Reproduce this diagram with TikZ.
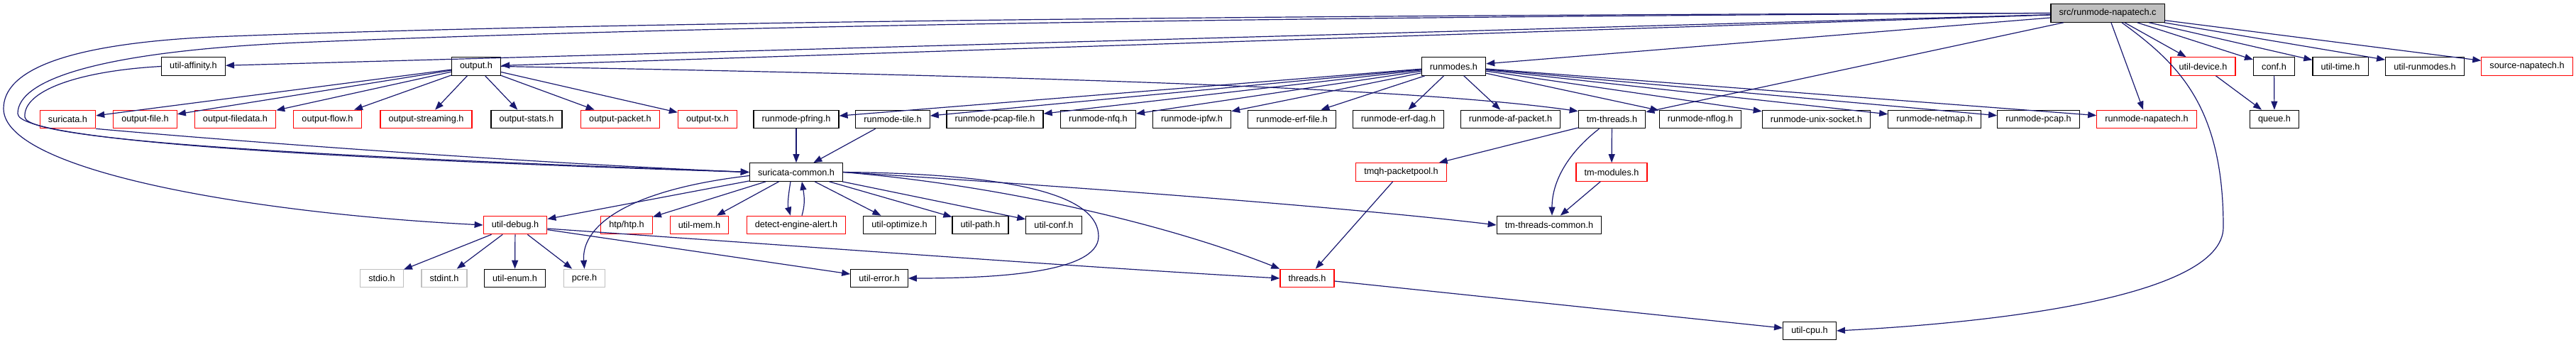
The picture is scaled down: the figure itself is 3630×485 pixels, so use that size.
\documentclass[tikz,border=0pt]{standalone}
\usepackage{fontspec}
\setmainfont{Liberation Sans}
\usepackage{tikz}
\usetikzlibrary{arrows.meta}
\definecolor{edgeblue}{HTML}{191970}
\definecolor{sysgray}{HTML}{BFBFBF}
\definecolor{trunc}{HTML}{FF0000}
\tikzset{
  hdr/.style={rectangle, line width=1.2pt, minimum height=25.5pt, inner xsep=11.6pt, inner ysep=0pt, font=\fontsize{12.7}{15}\selectfont, text=black},
}

\begin{document}
\begin{tikzpicture}[x=1pt, y=-1pt,
  docbox/.style={hdr, draw=black},
  redbox/.style={hdr, draw=trunc},
  sysbox/.style={hdr, draw=sysgray},
  rootbox/.style={hdr, draw=black, fill=sysgray},
  arr/.style={-{Triangle[length=12pt,width=9pt]}, line width=1.2pt, edgeblue}]
\useasboundingbox (0,0) rectangle (3630,485);
\node[rootbox] (root) at (2970,18.5) {src/runmode-napatech.c};
\node[docbox] (aff) at (272.5,93.5) {util-affinity.h};
\node[docbox] (outh) at (671,93.5) {output.h};
\node[docbox] (rmh) at (2048.5,93.5) {runmodes.h};
\node[redbox] (udev) at (3104.5,93.5) {util-device.h};
\node[docbox] (conf) at (3204.5,93.5) {conf.h};
\node[docbox] (utime) at (3298,93.5) {util-time.h};
\node[docbox] (urm) at (3417,93.5) {util-runmodes.h};
\node[redbox] (srcnapa) at (3561,93.5) {source-napatech.h};
\node[redbox] (suri) at (95.5,168) {suricata.h};
\node[redbox] (ofile) at (204.5,168) {output-file.h};
\node[redbox] (ofdata) at (331.5,168) {output-filedata.h};
\node[redbox] (oflow) at (461.5,168) {output-flow.h};
\node[redbox] (ostream) at (600.5,168) {output-streaming.h};
\node[docbox] (ostats) at (742,168) {output-stats.h};
\node[redbox] (opkt) at (874,168) {output-packet.h};
\node[redbox] (otx) at (997,168) {output-tx.h};
\node[docbox] (pfring) at (1122,168) {runmode-pfring.h};
\node[docbox] (tile) at (1258,168) {runmode-tile.h};
\node[docbox] (pcapfile) at (1402,168) {runmode-pcap-file.h};
\node[docbox] (nfq) at (1547.5,168) {runmode-nfq.h};
\node[docbox] (ipfw) at (1679.5,168) {runmode-ipfw.h};
\node[docbox] (erffile) at (1820.5,168) {runmode-erf-file.h};
\node[docbox] (erfdag) at (1970.5,168) {runmode-erf-dag.h};
\node[docbox] (afpkt) at (2128.5,168) {runmode-af-packet.h};
\node[docbox] (tmt) at (2271.5,168) {tm-threads.h};
\node[docbox] (nflog) at (2396,168) {runmode-nflog.h};
\node[docbox] (unixsock) at (2559.5,168) {runmode-unix-socket.h};
\node[docbox] (netmap) at (2726,168) {runmode-netmap.h};
\node[docbox] (pcap) at (2872.5,168) {runmode-pcap.h};
\node[redbox] (rmnapa) at (3025,168) {runmode-napatech.h};
\node[docbox] (queue) at (3205,168) {queue.h};
\node[docbox] (sc) at (1122,242.5) {suricata-common.h};
\node[redbox] (tmqh) at (1974.5,242.5) {tmqh-packetpool.h};
\node[redbox] (tmmod) at (2271,242.5) {tm-modules.h};
\node[redbox] (dbg) at (726,317) {util-debug.h};
\node[redbox] (htp) at (883,317) {htp/htp.h};
\node[redbox] (umem) at (985.5,317) {util-mem.h};
\node[redbox] (dea) at (1122,317) {detect-engine-alert.h};
\node[docbox] (uopt) at (1267.5,317) {util-optimize.h};
\node[docbox] (upath) at (1381.5,317) {util-path.h};
\node[docbox] (uconf) at (1485,317) {util-conf.h};
\node[docbox] (ttc) at (2183,317) {tm-threads-common.h};
\node[sysbox] (stdio) at (538,392) {stdio.h};
\node[sysbox] (stdint) at (626,392) {stdint.h};
\node[docbox] (uenum) at (725.5,392) {util-enum.h};
\node[sysbox] (pcre) at (823.5,392) {pcre.h};
\node[docbox] (uerr) at (1239,392) {util-error.h};
\node[redbox] (thr) at (1842,392) {threads.h};
\node[docbox] (cpu) at (2550,466) {util-cpu.h};
\draw[arr] (root) -- (udev); \draw[arr] (root) -- (conf); \draw[arr] (root) -- (utime);
\draw[arr] (root) -- (urm); \draw[arr] (root) -- (srcnapa); \draw[arr] (root) -- (rmnapa);
\draw[arr] (root) -- (tmt); \draw[arr] (root) -- (rmh); \draw[arr] (root) -- (outh); \draw[arr] (root) -- (aff);
\draw[arr] (root.west) .. controls (1500,22) and (700,36) .. (300,52) .. controls (90,62) and (5,100) .. (5,153) .. controls (5,240) and (350,300) .. (dbg.west);
\draw[arr] (root.west) .. controls (1500,25) and (800,44) .. (420,60) .. controls (150,72) and (25,110) .. (25,160) .. controls (25,200) and (500,225) .. (sc.west);
\draw[arr] ([xshift=20pt]root.south) .. controls (3070,90) and (3133,150) .. (3133,320) .. controls (3133,420) and (2800,455) .. (cpu.east);
\draw[arr] (aff.west) .. controls (110,100) and (32,128) .. (35,165) .. controls (38,200) and (500,222) .. (sc.west);
\draw[arr] (suri.south east) .. controls (400,205) and (800,232) .. (sc.west);
\draw[arr] (outh) -- (suri); \draw[arr] (outh) -- (ofile); \draw[arr] (outh) -- (ofdata); \draw[arr] (outh) -- (oflow);
\draw[arr] (outh) -- (ostream); \draw[arr] (outh) -- (ostats); \draw[arr] (outh) -- (opkt); \draw[arr] (outh) -- (otx);
\draw[arr] (outh.east) .. controls (1500,108) and (2000,125) .. ([yshift=-2pt]tmt.north west);
\draw[arr] (rmh) -- (pfring); \draw[arr] (rmh) -- (tile); \draw[arr] (rmh) -- (pcapfile); \draw[arr] (rmh) -- (nfq);
\draw[arr] (rmh) -- (ipfw); \draw[arr] (rmh) -- (erffile); \draw[arr] (rmh) -- (erfdag); \draw[arr] (rmh) -- (afpkt);
\draw[arr] (rmh) -- (nflog); \draw[arr] (rmh) -- (unixsock); \draw[arr] (rmh) -- (netmap); \draw[arr] (rmh) -- (pcap);
\draw[arr] (rmh) -- (rmnapa);
\draw[arr] (udev) -- (queue); \draw[arr] (conf) -- (queue);
\draw[arr] (pfring) -- (sc); \draw[arr] (tile) -- (sc);
\draw[arr] (sc) -- (dbg); \draw[arr] (sc) -- (htp); \draw[arr] (sc) -- (umem);
\draw[arr] (sc) -- (uopt); \draw[arr] (sc) -- (upath); \draw[arr] (sc) -- (uconf);
\draw[arr] ([xshift=-8pt]sc.south) .. controls (1110,280) and (1110,290) .. ([xshift=-8pt]dea.north);
\draw[arr] ([xshift=8pt]dea.north) .. controls (1134,290) and (1134,280) .. ([xshift=8pt]sc.south);
\draw[arr] ([yshift=-5pt]sc.west) .. controls (880,268) and (819,320) .. (pcre.north);
\draw[arr] (sc.east) .. controls (1450,245) and (1548,280) .. (1548,333) .. controls (1548,385) and (1400,392) .. (uerr.east);
\draw[arr] (sc.east) .. controls (1420,262) and (1650,318) .. (thr.north west);
\draw[arr] (sc.east) .. controls (1500,262) and (1900,292) .. (ttc.west);
\draw[arr] (dbg) -- (stdio); \draw[arr] (dbg) -- (stdint); \draw[arr] (dbg) -- (uenum); \draw[arr] (dbg) -- (pcre);
\draw[arr] (dbg) -- (uerr);
\draw[arr] ([yshift=-5pt]dbg.east) .. controls (1200,352) and (1550,378) .. (thr.west);
\draw[arr] (tmt) -- (tmqh); \draw[arr] (tmt) -- (tmmod);
\draw[arr] ([xshift=-18pt]tmt.south) .. controls (2210,215) and (2187,255) .. ([xshift=4pt]ttc.north);
\draw[arr] (tmmod) -- (ttc); \draw[arr] (tmqh) -- (thr); \draw[arr] (thr) -- (cpu);
\end{tikzpicture}
\end{document}
